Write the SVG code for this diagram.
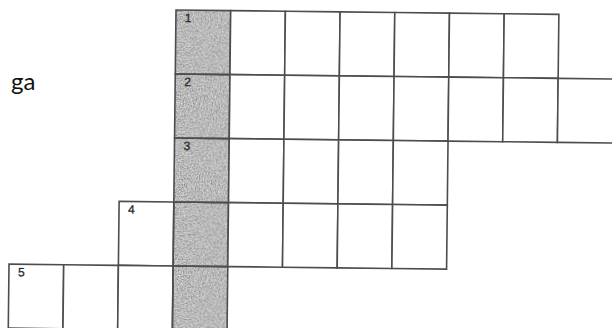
<svg xmlns="http://www.w3.org/2000/svg" width="612" height="328" viewBox="0 0 612 328">
<defs>
<style>
.cell{fill:#ffffff;stroke:#4d4d4d;stroke-width:1.6}
.shade{fill:none;stroke:#4d4d4d;stroke-width:1.6}
.num{font-family:"Liberation Sans Narrow","Liberation Sans",sans-serif;font-size:12px;fill:#2a2a2a;stroke:#2a2a2a;stroke-width:0.3}
.lbl{font-family:Lato,"Open Sans",sans-serif;font-size:24px;fill:#111}
</style>
<filter id="grain" filterUnits="objectBoundingBox" x="0" y="0" width="1" height="1">
<feTurbulence type="fractalNoise" baseFrequency="0.75" numOctaves="2" seed="5"/>
<feColorMatrix type="matrix" values="0.85 0 0 0 0.06  0.85 0 0 0 0.06  0.85 0 0 0 0.06  0 0 0 0 1"/>
</filter>
</defs>
<rect width="612" height="328" fill="#ffffff"/>
<text class="lbl" x="11" y="90">ga</text>
<g transform="translate(176,10) rotate(0.65)">
<rect x="0" y="0" width="54.7" height="320" fill="#a3a3a3" filter="url(#grain)"/>
<g id="row1">
<rect class="shade" x="0" y="0" width="54.7" height="64"/>
<rect class="cell" x="54.7" y="0" width="54.7" height="64"/>
<rect class="cell" x="109.4" y="0" width="54.7" height="64"/>
<rect class="cell" x="164.1" y="0" width="54.7" height="64"/>
<rect class="cell" x="218.8" y="0" width="54.7" height="64"/>
<rect class="cell" x="273.5" y="0" width="54.7" height="64"/>
<rect class="cell" x="328.2" y="0" width="54.7" height="64"/>
<text class="num" x="9" y="12">1</text>
</g>
<g id="row2">
<rect class="shade" x="0" y="64" width="54.7" height="64"/>
<rect class="cell" x="54.7" y="64" width="54.7" height="64"/>
<rect class="cell" x="109.4" y="64" width="54.7" height="64"/>
<rect class="cell" x="164.1" y="64" width="54.7" height="64"/>
<rect class="cell" x="218.8" y="64" width="54.7" height="64"/>
<rect class="cell" x="273.5" y="64" width="54.7" height="64"/>
<rect class="cell" x="328.2" y="64" width="54.7" height="64"/>
<rect class="cell" x="382.9" y="64" width="62" height="64"/>
<text class="num" x="9" y="76">2</text>
</g>
<g id="row3">
<rect class="shade" x="0" y="128" width="54.7" height="64"/>
<rect class="cell" x="54.7" y="128" width="54.7" height="64"/>
<rect class="cell" x="109.4" y="128" width="54.7" height="64"/>
<rect class="cell" x="164.1" y="128" width="54.7" height="64"/>
<rect class="cell" x="218.8" y="128" width="54.7" height="64"/>
<text class="num" x="9" y="140">3</text>
</g>
<g id="row4">
<rect class="cell" x="-54.7" y="192" width="54.7" height="64"/>
<rect class="shade" x="0" y="192" width="54.7" height="64"/>
<rect class="cell" x="54.7" y="192" width="54.7" height="64"/>
<rect class="cell" x="109.4" y="192" width="54.7" height="64"/>
<rect class="cell" x="164.1" y="192" width="54.7" height="64"/>
<rect class="cell" x="218.8" y="192" width="54.7" height="64"/>
<text class="num" x="-45.7" y="204">4</text>
</g>
<g id="row5">
<rect class="cell" x="-164.1" y="256" width="54.7" height="64"/>
<rect class="cell" x="-109.4" y="256" width="54.7" height="64"/>
<rect class="cell" x="-54.7" y="256" width="54.7" height="64"/>
<rect class="shade" x="0" y="256" width="54.7" height="64"/>
<text class="num" x="-155.1" y="268">5</text>
</g>
</g>
</svg>
